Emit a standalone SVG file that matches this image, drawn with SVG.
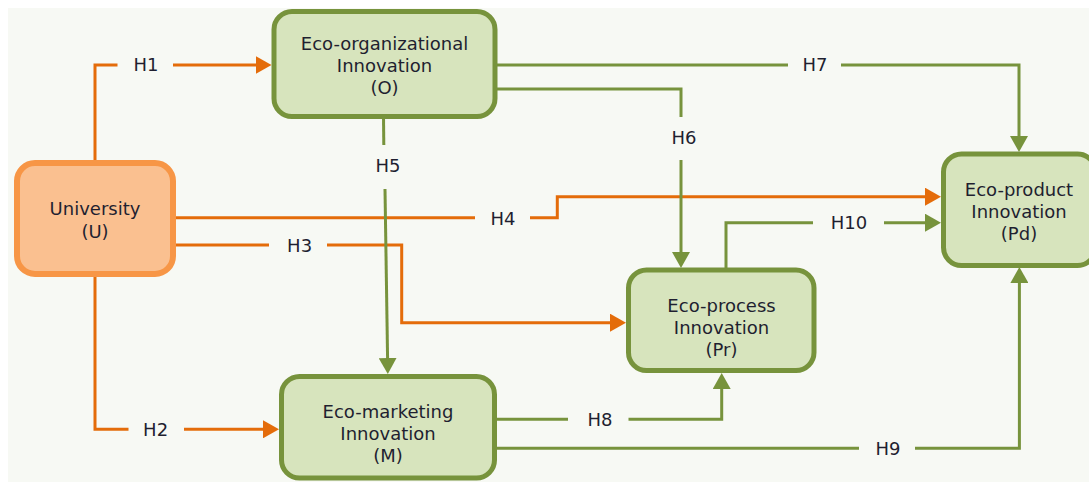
<svg xmlns="http://www.w3.org/2000/svg" width="1089" height="482" viewBox="0 0 1089 482">
  <defs>
    <style>
      .bg { fill: #f7f9f4; }
      .node { fill: #d7e4bd; stroke: #77933c; stroke-width: 5; }
      .node-u { fill: #fac090; stroke: #f79646; stroke-width: 6; }
      .label { font-family: "DejaVu Sans", Verdana, sans-serif; font-size: 18px; fill: #1f1f30; text-anchor: middle; }
      .or { fill: none; stroke: #e46c0a; stroke-width: 3; }
      .gr { fill: none; stroke: #77933c; stroke-width: 3; }
      .or.arr { marker-end: url(#arrow-or); }
      .gr.arr { marker-end: url(#arrow-gr); }
    </style>
    <marker id="arrow-or" viewBox="0 0 16 18" refX="8" refY="9" markerWidth="16" markerHeight="18" markerUnits="userSpaceOnUse" orient="auto">
      <path d="M0,0 L16,9 L0,18 z" fill="#e46c0a"/>
    </marker>
    <marker id="arrow-gr" viewBox="0 0 16 18" refX="8" refY="9" markerWidth="16" markerHeight="18" markerUnits="userSpaceOnUse" orient="auto">
      <path d="M0,0 L16,9 L0,18 z" fill="#77933c"/>
    </marker>
  </defs>

  <rect class="bg" x="8" y="8" width="1081" height="474"/>

  <!-- connectors -->
  <g id="connectors">
    <!-- H1: University -> O -->
    <path class="or" d="M95,163 V65 H117.5"/>
    <path class="or arr" d="M173,65 H263.5"/>
    <!-- H2: University -> M -->
    <path class="or" d="M95,274 V429.3 H128.5"/>
    <path class="or arr" d="M184,429.3 H271"/>
    <!-- H3: University -> Pr -->
    <path class="or" d="M173,245 H269"/>
    <path class="or arr" d="M327,245 H401.7 V322.7 H618"/>
    <!-- H4: University -> Pd -->
    <path class="or" d="M173,217.7 H475"/>
    <path class="or arr" d="M530,217.7 H557.3 V196.7 H933"/>
    <!-- H5: O -> M -->
    <path class="gr" d="M383.5,116.5 L383.8,145"/>
    <path class="gr arr" d="M385,189 L387.7,366"/>
    <!-- H6: O -> Pr -->
    <path class="gr" d="M494.5,89 H681 V117"/>
    <path class="gr arr" d="M681,160 V260"/>
    <!-- H7: O -> Pd -->
    <path class="gr" d="M494.5,65 H788"/>
    <path class="gr arr" d="M841,65 H1019 V144"/>
    <!-- H8: M -> Pr -->
    <path class="gr" d="M494.5,419.3 H568"/>
    <path class="gr arr" d="M628.5,419.3 H721.7 V381"/>
    <!-- H9: M -> Pd -->
    <path class="gr" d="M494.5,448.3 H859"/>
    <path class="gr arr" d="M915,448.3 H1019.4 V275"/>
    <!-- H10: Pr -> Pd -->
    <path class="gr" d="M726,270 V222.7 H813"/>
    <path class="gr arr" d="M884,222.7 H933"/>

    <text class="label" x="146" y="71">H1</text>
    <text class="label" x="155.6" y="436">H2</text>
    <text class="label" x="299.6" y="251.5">H3</text>
    <text class="label" x="503" y="224.5">H4</text>
    <text class="label" x="388" y="172">H5</text>
    <text class="label" x="684" y="143.5">H6</text>
    <text class="label" x="815" y="71">H7</text>
    <text class="label" x="600" y="426">H8</text>
    <text class="label" x="888" y="455">H9</text>
    <text class="label" x="849" y="229">H10</text>
  </g>

  <!-- nodes -->
  <g id="node-university">
    <rect class="node-u" x="17" y="163" width="156" height="111" rx="18"/>
    <text class="label" x="95" y="215">University</text>
    <text class="label" x="95" y="237.5">(U)</text>
  </g>

  <g id="node-organizational">
    <rect class="node" x="274" y="11.5" width="221" height="105" rx="18"/>
    <text class="label" x="384.5" y="50">Eco-organizational</text>
    <text class="label" x="384.5" y="72">Innovation</text>
    <text class="label" x="384.5" y="94">(O)</text>
  </g>

  <g id="node-product">
    <rect class="node" x="943.5" y="154" width="152" height="111.5" rx="18"/>
    <text class="label" x="1019" y="196">Eco-product</text>
    <text class="label" x="1019" y="218">Innovation</text>
    <text class="label" x="1019" y="240">(Pd)</text>
  </g>

  <g id="node-process">
    <rect class="node" x="628.5" y="270" width="185.5" height="100.5" rx="18"/>
    <text class="label" x="721.5" y="311.5">Eco-process</text>
    <text class="label" x="721.5" y="333.5">Innovation</text>
    <text class="label" x="721.5" y="355.5">(Pr)</text>
  </g>

  <g id="node-marketing">
    <rect class="node" x="281.5" y="376.5" width="213" height="101.5" rx="18"/>
    <text class="label" x="388" y="418">Eco-marketing</text>
    <text class="label" x="388" y="440">Innovation</text>
    <text class="label" x="388" y="462">(M)</text>
  </g>
</svg>
